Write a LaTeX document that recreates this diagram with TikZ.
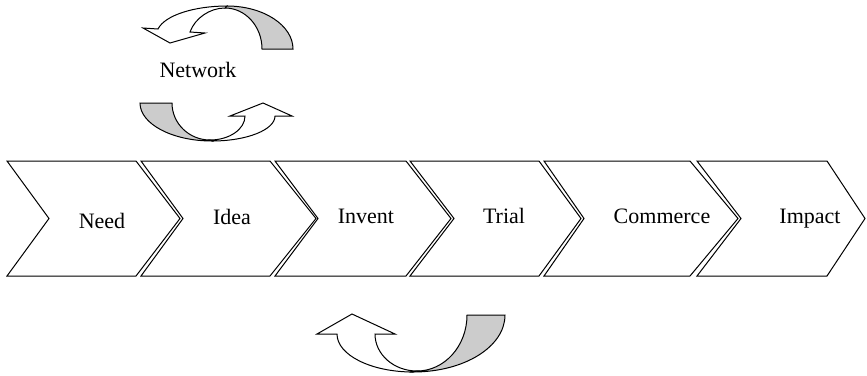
\documentclass[tikz,border=0pt]{standalone}
\usepackage{fontspec}
\setmainfont{Liberation Serif}
\definecolor{bandgrey}{RGB}{204,204,204}
\newcommand\mychev[4]{\draw[chev] (#1,161) -- (#3,161) -- (#4,218.5) -- (#3,276) -- (#1,276) -- (#2,218.5) -- cycle;}
\begin{document}
\begin{tikzpicture}[x=1pt,y=-1pt,
  chev/.style={draw=black, fill=white, line width=1pt, line join=miter},
  backband/.style={draw=black, fill=bandgrey, line width=1pt, line join=miter},
  frontband/.style={draw=black, fill=white, line width=1pt, line join=miter},
  lbl/.style={anchor=base, inner sep=0pt, font=\fontsize{22}{26}\selectfont}]
\useasboundingbox (0,0) rectangle (867,375);

% chevrons: left top, notch, right top, tip
\mychev{7}{49}{136}{180}
\mychev{141}{183}{270}{316}
\mychev{275}{318}{406}{451}
\mychev{410}{454}{539}{581}
\mychev{544}{584}{690}{738}
\mychev{697}{741}{827}{865}

\node[lbl] (need) at (102,228) {Need};
\node[lbl] (idea) at (232,224) {Idea};
\node[lbl] (invent) at (366,223) {Invent};
\node[lbl] (trial) at (504,223) {Trial};
\node[lbl] (commerce) at (662,223) {Commerce};
\node[lbl] (impact) at (810,223) {Impact};
\node[lbl] (network) at (198,77) {Network};

% upper curved-down arrow
\draw[backband] (262,49) -- (293,49) .. controls (293,25.3) and (263.4,6) .. (227,6)
  -- (225,8) .. controls (245.4,8) and (262,26.4) .. (262,49) -- cycle;
\draw[frontband] (158,29) .. controls (165,15) and (195,6) .. (227,6)
  -- (225,8) .. controls (210,8) and (195,18) .. (190,32)
  -- (205,33) -- (170,43) -- (143,28) -- cycle;

% lower curved-up arrow (below Network)
\draw[backband] (140,103) -- (172,103) .. controls (172,123.4) and (189,140) .. (210,140)
  -- (212,141) .. controls (172.3,141) and (140,124) .. (140,103) -- cycle;
\draw[frontband] (245,116) -- (230,116) -- (263,103) -- (292,116) -- (275,116)
  .. controls (275,129.8) and (246.8,141) .. (212,141)
  -- (210,140) .. controls (229.3,140) and (245,129.3) .. (245,116) -- cycle;

% bottom curved-up arrow
\draw[backband] (467,315) -- (505,315) .. controls (505,346.5) and (464.7,372) .. (413,372)
  -- (417,371) .. controls (444.6,371) and (467,345.9) .. (467,315) -- cycle;
\draw[frontband] (375,334) -- (395,334) -- (352,314) -- (317,334) -- (337,334)
  .. controls (337,355) and (371,372) .. (413,372)
  -- (417,371) .. controls (393.8,371) and (375,354.4) .. (375,334) -- cycle;
\end{tikzpicture}
\end{document}
